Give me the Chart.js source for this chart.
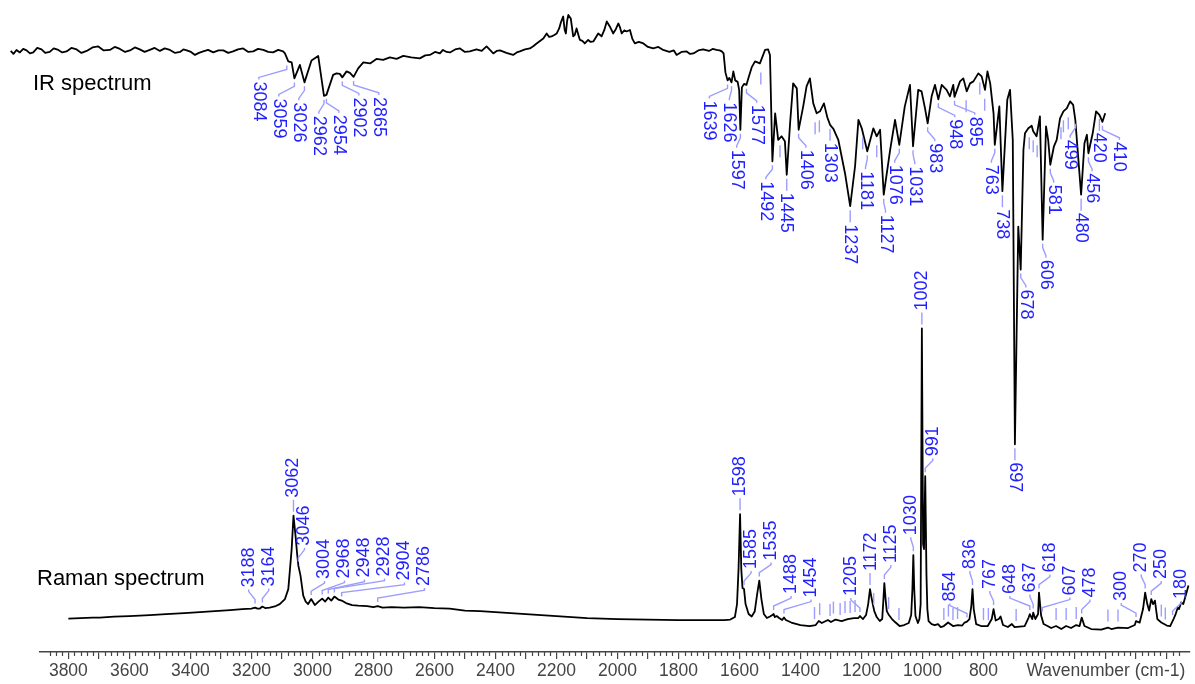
<!DOCTYPE html>
<html>
<head>
<meta charset="utf-8">
<script src="https://cdn.jsdelivr.net/npm/chart.js@4.4.1/dist/chart.umd.min.js"></script>
<style>
  html, body { margin: 0; padding: 0; background: #fff; }
  canvas { display: block; }
</style>
</head>
<body>
<canvas id="c" width="1195" height="684"></canvas>
<script>
// IR spectrum: [wavenumber cm-1, transmittance (a.u.)]
const irSpectrum = [
  [3989,92.8],[3980,92.2],[3970,93.0],[3959,92.5],[3948,93.2],[3937,92.9],[3926,92.3],[3915,92.5],[3902,93.4],
  [3888,93.1],[3876,92.4],[3861,92.6],[3848,93.3],[3833,93.0],[3820,92.5],[3806,92.7],[3790,93.4],[3773,93.1],
  [3757,92.4],[3740,92.8],[3721,93.5],[3702,93.7],[3684,92.9],[3664,93.0],[3648,93.6],[3631,93.2],[3614,92.6],
  [3598,92.9],[3582,93.5],[3566,93.1],[3550,92.6],[3533,93.0],[3517,93.4],[3500,92.8],[3484,93.3],[3467,93.0],
  [3450,92.4],[3434,92.6],[3423,93.1],[3412,92.9],[3398,92.6],[3385,92.0],[3372,92.4],[3358,92.7],[3342,93.0],
  [3325,92.5],[3308,92.9],[3292,92.9],[3276,92.4],[3260,92.7],[3244,93.1],[3227,93.3],[3210,92.6],[3194,92.7],
  [3178,93.2],[3161,93.0],[3145,92.6],[3129,92.5],[3112,93.0],[3096,92.7],[3090,92.3],
  [3079,90.7],[3068,90.5],[3059,87.3],[3041,90.0],[3026,86.5],[3003,90.9],[2981,91.8],[2962,83.8],[2954,84.0],
  [2932,88.0],[2921,88.3],[2910,88.2],[2902,87.5],[2888,88.7],[2877,88.4],[2865,87.6],[2850,89.3],[2833,90.5],
  [2811,90.3],[2790,91.2],[2768,91.0],[2746,91.5],[2724,91.2],[2702,91.8],[2676,91.5],[2648,91.3],[2630,91.9],
  [2615,92.0],[2598,92.6],[2582,92.3],[2572,93.0],[2560,92.6],[2549,92.5],[2532,93.1],[2516,93.3],[2500,92.6],
  [2484,92.7],[2462,93.1],[2445,92.8],[2429,93.7],[2418,93.0],[2407,92.3],[2396,92.8],[2385,92.9],[2364,92.4],
  [2342,92.0],[2330,92.5],[2320,92.7],[2303,93.1],[2287,93.3],[2275,93.8],[2265,94.3],[2254,94.8],[2243,95.3],
  [2232,96.3],[2224,95.6],[2216,95.7],[2207,96.0],[2199,96.3],[2191,97.3],[2185,98.6],[2178,99.7],[2173,97.0],
  [2169,96.3],[2165,98.8],[2161,100.0],[2153,99.3],[2145,95.7],[2140,96.0],[2134,97.3],[2128,96.0],[2123,95.0],
  [2115,94.8],[2107,94.3],[2096,95.0],[2088,94.6],[2079,94.7],[2070,95.6],[2063,96.3],[2057,96.0],[2052,95.7],
  [2043,97.0],[2035,98.7],[2025,97.7],[2014,96.3],[2005,97.2],[1997,98.3],[1991,97.4],[1986,96.3],[1978,96.9],
  [1970,96.7],[1959,97.0],[1951,95.2],[1943,94.3],[1930,94.6],[1915,94.3],[1900,93.6],[1883,93.3],[1866,93.6],
  [1850,93.0],[1830,92.6],[1815,92.9],[1806,92.0],[1790,92.6],[1773,92.7],[1762,92.2],[1751,92.3],[1735,92.9],
  [1719,93.1],[1700,92.8],[1688,93.2],[1675,93.0],[1665,92.9],[1658,92.7],[1652,92.3],[1646,88.5],[1639,86.9],
  [1633,87.4],[1626,86.5],[1620,88.7],[1614,86.9],[1606,86.6],[1601,85.0],[1597,77.0],[1592,85.5],[1585,86.2],
  [1577,86.0],[1570,87.5],[1560,89.5],[1549,90.7],[1533,90.3],[1516,93.0],[1506,93.1],[1500,92.0],[1492,70.7],
  [1483,80.3],[1473,75.0],[1462,75.7],[1451,74.7],[1445,68.0],[1434,78.3],[1424,86.3],[1412,85.3],[1406,77.0],
  [1391,81.7],[1380,85.7],[1369,87.3],[1358,82.3],[1347,80.3],[1336,80.7],[1323,82.3],[1312,79.5],[1303,78.0],
  [1292,77.2],[1276,75.0],[1254,68.3],[1237,61.7],[1221,69.7],[1210,79.0],[1199,77.3],[1181,72.7],[1161,77.3],
  [1150,75.7],[1139,77.0],[1127,64.0],[1106,73.0],[1090,79.0],[1076,74.0],[1058,81.7],[1041,86.0],[1031,73.7],
  [1014,85.0],[1003,84.7],[992,81.4],[983,78.3],[970,83.7],[959,86.0],[948,83.1],[937,86.0],[921,85.0],
  [910,83.7],[899,86.0],[895,83.6],[877,86.7],[866,87.3],[855,84.7],[844,86.3],[833,86.7],[817,88.3],
  [806,87.7],[795,85.0],[787,88.7],[778,86.3],[767,80.3],[763,74.0],[748,81.7],[738,64.7],[722,83.0],
  [713,85.0],[704,75.0],[697,14.0],[686,57.6],[678,49.0],[669,73.0],[664,76.3],[653,77.3],[642,77.8],
  [637,76.7],[626,75.7],[615,79.7],[606,55.0],[595,77.7],[588,75.0],[581,70.0],[569,73.7],[560,75.0],
  [549,79.3],[538,80.7],[527,81.3],[516,82.7],[506,82.0],[499,79.0],[480,64.0],[469,74.3],[461,76.0],
  [456,72.3],[442,76.3],[431,80.7],[420,80.0],[410,78.6],[401,80.3]
];

// Raman spectrum: [wavenumber cm-1, intensity (a.u.)]
const ramanSpectrum = [
  [3800,11],[3760,12],[3720,13],[3697,13],[3650,15],[3600,16],[3533,18],[3480,20],[3420,22],[3369,24],
  [3320,26],[3270,28],[3230,30],[3200,31],[3188,33],[3180,31],[3172,31],[3164,35],[3155,32],[3140,33],
  [3120,36],[3107,40],[3090,50],[3079,70],[3068,150],[3062,217],[3055,175],[3050,140],[3046,117],[3039,97],
  [3030,57],[3022,45],[3014,40],[3004,50],[2992,38],[2980,45],[2968,51],[2958,45],[2948,53],[2938,47],
  [2928,55],[2915,49],[2904,47],[2890,42],[2870,38],[2850,37],[2820,36],[2800,34],[2786,36],[2770,33],
  [2740,34],[2700,33],[2650,34],[2600,32],[2550,31],[2500,27],[2450,26],[2400,24],[2300,20],[2200,16],
  [2100,12],[2000,10],[1900,9],[1800,8],[1700,8],[1650,8],[1630,9],[1615,14],[1608,40],[1603,110],
  [1598,220],[1594,110],[1590,72],[1585,70],[1580,40],[1570,20],[1560,15],[1550,25],[1542,60],[1535,87],
  [1528,50],[1520,20],[1510,12],[1500,15],[1492,18],[1488,20],[1484,14],[1478,16],[1470,12],[1460,8],
  [1454,13],[1448,8],[1430,3],[1400,-2],[1370,-4],[1350,-2],[1340,6],[1330,2],[1310,8],[1300,4],
  [1285,9],[1265,6],[1245,10],[1225,12],[1210,12],[1205,16],[1195,10],[1185,18],[1178,40],[1172,70],
  [1168,56],[1163,40],[1158,26],[1150,14],[1140,6],[1132,10],[1129,40],[1125,82],[1121,50],[1117,26],
  [1110,18],[1100,10],[1090,4],[1075,-4],[1060,-2],[1045,2],[1037,18],[1033,70],[1030,138],[1027,70],
  [1023,16],[1015,2],[1010,10],[1006,40],[1002,592],[998,160],[995,150],[991,296],[987,100],[984,30],
  [980,6],[970,0],[960,-2],[949,0],[940,-6],[930,-4],[916,3],[900,-4],[884,-2],[870,-3],
  [862,3],[854,5],[846,10],[840,36],[836,70],[832,30],[824,0],[808,-4],[786,-4],[773,10],
  [767,30],[760,7],[750,10],[744,15],[736,-2],[720,-6],[707,0],[698,-6],[665,-4],[652,13],
  [648,20],[640,10],[637,23],[630,10],[621,20],[618,63],[611,17],[603,0],[590,-4],[578,-8],
  [562,-4],[545,-10],[529,-4],[513,-8],[496,-2],[485,-4],[478,13],[469,-4],[447,-10],[414,-11],
  [392,-7],[381,-10],[359,-7],[326,-8],[304,-2],[300,6],[288,3],[277,30],[270,63],[263,40],
  [257,27],[250,50],[244,40],[238,47],[230,10],[217,3],[199,-3],[188,-4],[177,10],[170,20],
  [163,33],[159,30],[152,43],[145,40],[137,57],[128,77]
];

// labelled bands
const irPeaks = [3084,3059,3026,2962,2954,2902,2865,1639,1626,1597,1577,1492,1445,1406,1303,1237,1181,1127,
  1076,1031,983,948,895,763,738,697,678,606,581,499,480,456,420,410];
const ramanPeaks = [3188,3164,3062,3046,3004,2968,2948,2928,2904,2786,1598,1585,1535,1488,1454,1205,1172,1125,
  1030,1002,991,854,836,767,648,637,618,607,478,300,270,250,180];

// bands marked without a number
const irMarks = [1530,1467,1352,1338,1196,1150,857,812,796,650,637,624,546,538,522];
const ramanMarks = [1354,1337,1303,1292,1270,1254,1237,1221,1160,1111,1077,930,915,900,885,800,784,693,562,529,496,392,359,217,204];

const X_MAX = 3893, X_MIN = 123;
const AXIS = '#454545';
const LABEL_BLUE = '#1f1fff';
const LEADER = '#9d9dff';
const LABEL_GAP = 20;
const PEAK_CLEAR = 11;

function valueAt(spec, w) {
  let best = spec[0];
  spec.forEach(p => { if (Math.abs(p[0] - w) < Math.abs(best[0] - w)) best = p; });
  return best[1];
}

// move labels sideways until they stop colliding with each other or with tall peaks
function placeLabels(ctx, xs, ys, peaks, spec, dir) {
  const items = peaks.map(w => {
    const px = xs.getPixelForValue(w), py = ys.getPixelForValue(valueAt(spec, w));
    const len = ctx.measureText(String(w)).width;
    const t0 = py + dir * 20, t1 = py + dir * (20 + len);
    const tA = Math.min(t0, t1), tB = Math.max(t0, t1);
    return { w, px, py, lx: px, tA, tB, fA: tA - 3, fB: tB + 3 };
  }).sort((a, b) => a.px - b.px);

  for (let iter = 0; iter < 400; iter++) {
    for (let i = 0; i < items.length; i++) {
      for (let j = i + 1; j < items.length; j++) {
        const a = items[i], b = items[j];
        if (a.fB < b.fA || b.fB < a.fA) continue;
        const d = b.lx - a.lx;
        if (d < LABEL_GAP) { const s = (LABEL_GAP - d) / 2; a.lx -= s; b.lx += s; }
      }
    }
    items.forEach(b => items.forEach(a => {
      if (a === b) return;
      const through = dir > 0 ? a.py > b.tA : a.py < b.tB;
      if (!through) return;
      const d = b.lx - a.px;
      if (Math.abs(d) < PEAK_CLEAR) {
        const sg = d !== 0 ? Math.sign(d) : Math.sign(b.px - a.px);
        b.lx = a.px + sg * PEAK_CLEAR;
      }
    }));
  }
  return items;
}

function drawLabels(ctx, xs, peaks, spec, ys, dir) {
  placeLabels(ctx, xs, ys, peaks, spec, dir).forEach(it => {
    const bent = Math.abs(it.lx - it.px) > 1;
    let y = it.py + dir * 4;
    ctx.beginPath();
    ctx.moveTo(it.px, y);
    if (bent) {
      ctx.lineTo(it.px, y + dir * 4);
      ctx.lineTo(it.lx, y + dir * 12);
      ctx.lineTo(it.lx, y + dir * 14);
      y += dir * 14;
    } else {
      y += dir * 12;
      ctx.lineTo(it.px, y);
    }
    ctx.stroke();
    ctx.save();
    ctx.translate(it.lx, y + dir * 2);
    ctx.rotate(dir * Math.PI / 2);
    ctx.fillText(String(it.w), 0, 0);
    ctx.restore();
  });
}

const peakLabels = {
  id: 'peakLabels',
  afterDatasetsDraw(chart) {
    const ctx = chart.ctx, xs = chart.scales.x, yI = chart.scales.yIR, yR = chart.scales.yR;
    ctx.save();
    ctx.lineWidth = 1.4;
    ctx.strokeStyle = LEADER;
    irMarks.forEach(w => {
      const px = xs.getPixelForValue(w), py = yI.getPixelForValue(valueAt(irSpectrum, w));
      ctx.beginPath(); ctx.moveTo(px, py + 9); ctx.lineTo(px, py + 21); ctx.stroke();
    });
    ramanMarks.forEach(w => {
      const px = xs.getPixelForValue(w), py = yR.getPixelForValue(valueAt(ramanSpectrum, w));
      ctx.beginPath(); ctx.moveTo(px, py - 6); ctx.lineTo(px, py - 18); ctx.stroke();
    });
    ctx.fillStyle = LABEL_BLUE;
    ctx.font = '18px "Liberation Sans", Arial, sans-serif';
    ctx.textAlign = 'left';
    ctx.textBaseline = 'middle';
    drawLabels(ctx, xs, irPeaks, irSpectrum, yI, 1);
    drawLabels(ctx, xs, ramanPeaks, ramanSpectrum, yR, -1);
    ctx.restore();
  }
};

const axisExtras = {
  id: 'axisExtras',
  afterDraw(chart) {
    const ctx = chart.ctx, s = chart.scales.x;
    ctx.save();
    ctx.strokeStyle = AXIS;
    ctx.lineWidth = 1.2;
    s.ticks.forEach(t => {
      if (t.value % 20 === 0 && t.value % 100 !== 0) {
        const px = Math.round(s.getPixelForValue(t.value)) + 0.5;
        ctx.beginPath(); ctx.moveTo(px, s.top); ctx.lineTo(px, s.top + 4); ctx.stroke();
      }
    });
    ctx.fillStyle = AXIS;
    ctx.font = '17.5px "Liberation Sans", Arial, sans-serif';
    ctx.textAlign = 'left';
    ctx.textBaseline = 'middle';
    ctx.fillText('Wavenumber (cm-1)', s.getPixelForValue(800) + 43, s.top + 19.5);
    ctx.fillStyle = '#000';
    ctx.font = '22px "Liberation Sans", Arial, sans-serif';
    ctx.textBaseline = 'alphabetic';
    ctx.fillText('IR spectrum', 33, 90);
    ctx.fillText('Raman spectrum', 37, 585);
    ctx.restore();
  }
};

new Chart(document.getElementById('c'), {
  type: 'line',
  data: {
    datasets: [
      { label: 'IR', data: irSpectrum.map(p => ({ x: p[0], y: p[1] })), yAxisID: 'yIR',
        borderColor: '#000', borderWidth: 1.8, pointRadius: 0, tension: 0, clip: false, borderJoinStyle: 'round' },
      { label: 'Raman', data: ramanSpectrum.map(p => ({ x: p[0], y: p[1] })), yAxisID: 'yR',
        borderColor: '#000', borderWidth: 1.8, pointRadius: 0, tension: 0, clip: false, borderJoinStyle: 'round' }
    ]
  },
  options: {
    responsive: false,
    devicePixelRatio: 1,
    animation: false,
    events: [],
    layout: { padding: { left: 40, right: 5, top: 0, bottom: 0 } },
    plugins: { legend: { display: false }, tooltip: { enabled: false } },
    scales: {
      x: {
        type: 'linear', reverse: true, min: X_MIN, max: X_MAX,
        ticks: {
          stepSize: 20, autoSkip: false, maxRotation: 0, padding: 2, color: AXIS,
          font: { family: '"Liberation Sans", Arial, sans-serif', size: 17.5 },
          callback: v => (v % 200 === 0 && v >= 800) ? String(v) : ''
        },
        grid: {
          drawOnChartArea: false, tickLength: 7, lineWidth: 1.2,
          tickColor: c => (c.tick && c.tick.value % 100 === 0) ? AXIS : 'rgba(0,0,0,0)'
        },
        border: { color: AXIS, width: 1.6 }
      },
      yIR: { display: false, min: -27.6, max: 103 },
      yR: { display: false, min: -56, max: 1250 }
    }
  },
  plugins: [peakLabels, axisExtras]
});
</script>
</body>
</html>
